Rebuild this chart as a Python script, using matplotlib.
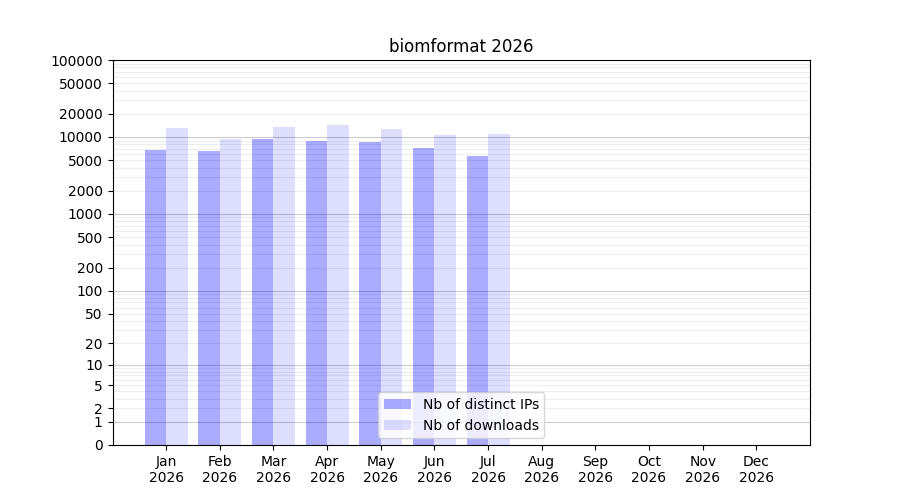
import numpy as np
import matplotlib
matplotlib.use('Agg')
import matplotlib.pyplot as plt

months = ['Jan', 'Feb', 'Mar', 'Apr', 'May', 'Jun', 'Jul', 'Aug', 'Sep', 'Oct', 'Nov', 'Dec']
year = 2026
distinct_ips = [6700, 6500, 9350, 8800, 8550, 7150, 5600]
downloads = [13000, 9350, 13400, 14250, 12650, 10550, 10850]
ytick_values = [0, 1, 2, 5, 10, 20, 50, 100, 200, 500, 1000, 2000, 5000, 10000, 20000, 50000, 100000]

fig, ax = plt.subplots(figsize=(9, 5), dpi=100)

x_dist = np.arange(len(distinct_ips))
x_dl = np.arange(len(downloads))
ax.bar(x_dist - 0.2, distinct_ips, width=0.4, color='blue', alpha=0.33, label='Nb of distinct IPs')
ax.bar(x_dl + 0.2, downloads, width=0.4, color='blue', alpha=0.13, label='Nb of downloads')

ax.set_yscale('function', functions=(lambda v: np.log10(1 + np.clip(v, 0, None)),
                                     lambda t: 10 ** t - 1))
ax.set_ylim(0, 100000)
ax.set_xlim(-1, 12)

ax.set_yticks(ytick_values)
ax.set_yticklabels([str(v) for v in ytick_values])
minor = [m * 10 ** k for k in range(0, 5) for m in range(2, 10)]
ax.set_yticks(minor, minor=True)
ax.tick_params(axis='y', which='minor', length=0)
ax.grid(False)
for v in minor:
    ax.axhline(v, color='#eeeeee', linewidth=0.8, zorder=0)
for v in [1, 10, 100, 1000, 10000]:
    ax.axhline(v, color='#cccccc', linewidth=0.8, zorder=0)

ax.set_xticks(np.arange(len(months)))
ax.set_xticklabels(['{}\n{}'.format(m, year) for m in months])

ax.set_title('biomformat {}'.format(year))
ax.legend(loc='lower center')

fig.savefig('out.png')
